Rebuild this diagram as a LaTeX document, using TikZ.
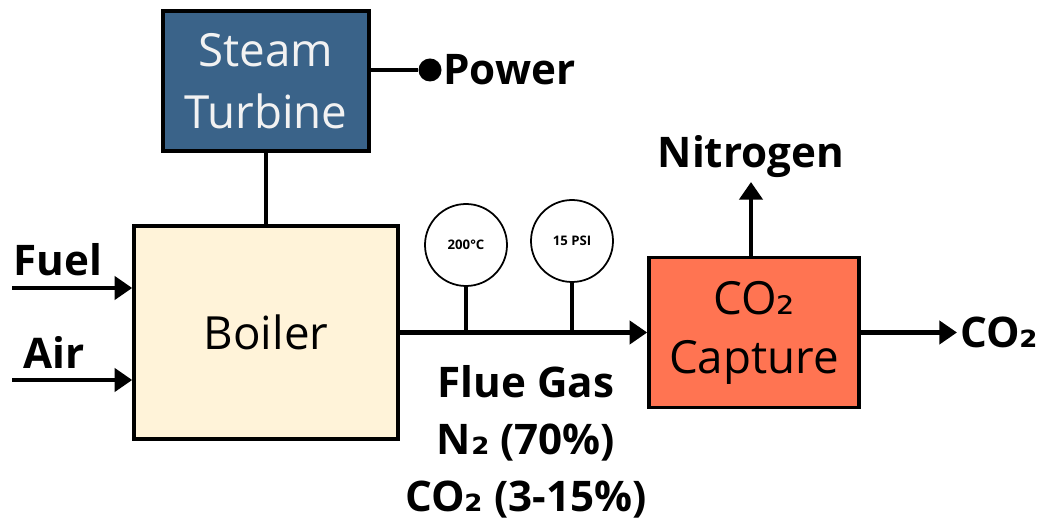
\documentclass[tikz,border=0pt]{standalone}
\usepackage{fontspec}
\setmainfont{Open Sans}
\newfontfamily\subfont{DejaVu Sans}
\newcommand{\subtwo}{{\subfont ₂}}
\usetikzlibrary{arrows.meta}
\definecolor{turbineblue}{HTML}{3A6389}
\definecolor{boilercream}{HTML}{FFF3D9}
\definecolor{captureorange}{HTML}{FF7452}

\begin{document}
\begin{tikzpicture}[unit/.style={draw, line width=2pt, font=\fontsize{26}{35}\selectfont, align=center, inner sep=0pt}, lbl/.style={font=\fontsize{24}{32.3}\selectfont\bfseries, inner sep=0pt, align=center}, gauge/.style={draw, circle, line width=1pt, minimum size=1.64cm, inner sep=0pt, font=\fontsize{7.5}{9}\selectfont\bfseries}, pipe/.style={line width=2.8pt}, arr/.style={pipe, -{Triangle[length=10pt, width=13pt]}}]
	\useasboundingbox (0,0) rectangle (20.86,10.42);
	\node[unit, fill=turbineblue, text=white!95!black, minimum width=4.12cm, minimum height=2.8cm] (turbine) at (5.32,8.8) {Steam\\Turbine};
	\node[unit, fill=boilercream, minimum width=5.28cm, minimum height=4.26cm] (boiler) at (5.32,3.77) {Boiler};
	\node[unit, fill=captureorange, minimum width=4.2cm, minimum height=3.0cm, font=\fontsize{26}{33.5}\selectfont] (capture) at (15.08,3.77) {CO\subtwo\\Capture};
	\node[gauge] (temp) at (9.32,5.52) {200°C};
	\node[gauge] (press) at (11.44,5.6) {15 PSI};
	\node[circle, fill, minimum size=0.46cm, inner sep=0pt] (dot) at (8.6,9.02) {};
	\node[lbl, anchor=west] (power) at (8.86,9.02) {Power};
	\node[lbl] (fuel) at (1.16,5.22) {Fuel};
	\node[lbl] (air) at (1.08,3.38) {Air};
	\node[lbl] (nitrogen) at (15.02,7.28) {Nitrogen};
	\node[lbl, anchor=west] (co2) at (19.2,3.77) {CO\subtwo};
	\node[lbl] (flue) at (10.52,1.58) {Flue Gas\\N\subtwo\ (70\%)\\CO\subtwo\ (3-15\%)};
	\coordinate (fuelin) at (0.24,4.66);
	\coordinate (airin) at (0.24,2.82);
	\coordinate (n2out) at (15.02,6.78);
	\coordinate (co2out) at (19.14,3.77);
	\draw[pipe] (turbine.south) -- (boiler.north);
	\draw[pipe] (turbine.east |- dot) -- (dot);
	\draw[arr] (fuelin) -- (fuelin -| boiler.west);
	\draw[arr] (airin) -- (airin -| boiler.west);
	\draw[pipe] (temp.south) -- (temp.south |- boiler.east);
	\draw[pipe] (press.south) -- (press.south |- boiler.east);
	\draw[arr] (boiler.east) -- (capture.west);
	\draw[arr] (n2out |- capture.north) -- (n2out);
	\draw[arr] (capture.east) -- (co2out);
\end{tikzpicture}
\end{document}
